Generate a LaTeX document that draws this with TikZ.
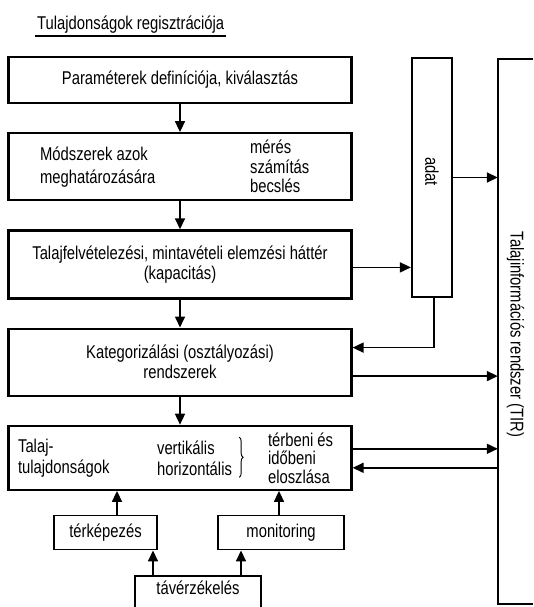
\documentclass[tikz,border=0pt]{standalone}
\usepackage{fontspec}
\setmainfont{Liberation Sans}[FakeStretch=0.8]
\usetikzlibrary{positioning,arrows.meta,decorations.pathreplacing}
\tikzset{
  box/.style={draw,line width=2.2pt,minimum width=343pt,align=center,inner sep=0pt},
  smallbox/.style={draw,line width=1.9pt,minimum height=34pt,inner sep=0pt},
  frame/.style={line width=2.2pt},
  arr/.style={line width=1.6pt,-{Triangle[length=11pt,width=10pt]}},
  txt/.style={align=left,inner sep=0pt},
}
\begin{document}
\begin{tikzpicture}[x=1pt,y=-1pt,node distance=28pt,font=\fontsize{18.5}{20}\selectfont]
\useasboundingbox (0,0) rectangle (533,607);
% title
\node[inner sep=2pt,anchor=south west] (title) at (35,36) {Tulajdonságok regisztrációja};
\draw[line width=1.2pt] (title.south west) -- (title.south east);
% main column
\node[box,minimum height=46pt] (param) at (180,80) {Paraméterek definíciója, kiválasztás};
\node[box,minimum height=67pt,below=of param] (modsz) {};
\node[txt,anchor=west,font=\fontsize{18.5}{23}\selectfont] (modtxt) at ([xshift=32.5pt]modsz.west) {Módszerek azok\\meghatározására};
\node[txt,anchor=west,font=\fontsize{18.5}{19.5}\selectfont] (meres) at ([xshift=242.5pt]modsz.west) {mérés\\számítás\\becslés};
\node[box,minimum height=68pt,below=of modsz] (felv) {Talajfelvételezési, mintavételi elemzési háttér\\(kapacitás)};
\node[box,minimum height=67pt,below=of felv] (kateg) {Kategorizálási (osztályozási)\\rendszerek};
\node[box,minimum height=64pt,below=of kateg] (tulaj) {};
\node[txt,anchor=west,font=\fontsize{18.5}{21}\selectfont] (talaj) at ([xshift=10.5pt]tulaj.west) {Talaj-\\tulajdonságok};
\node[txt,anchor=west,font=\fontsize{18.5}{21}\selectfont] (vert) at ([xshift=149.5pt]tulaj.west) {vertikális\\horizontális};
\draw[decorate,decoration={brace,amplitude=4pt},line width=0.9pt] ([xshift=7pt,yshift=3pt]vert.north east) -- ([xshift=7pt,yshift=-2pt]vert.south east);
\node[txt,anchor=west,font=\fontsize{18.5}{18.5}\selectfont] (eloszl) at ([xshift=260.5pt]tulaj.west) {térbeni és\\időbeni\\eloszlása};
% data and information system
\node[draw,frame,minimum width=40pt,minimum height=239pt] (adat) at (432,177.5) {};
\node[rotate=-90] (adattxt) at ([yshift=6pt]adat) {adat};
\node[minimum width=35pt,minimum height=545pt] (tir) at (515.5,331.5) {};
\draw[frame] (tir.north east) -- (tir.north west) -- (tir.south west) -- (tir.south east);
\node[rotate=-90] (tirtxt) at ([yshift=-3pt]tir) {Talajinformációs rendszer (TIR)};
% lower boxes
\node[smallbox,minimum width=103pt] (terk) at (105.5,532.5) {térképezés};
\node[smallbox,minimum width=126pt] (monit) at (281,532.5) {monitoring};
\node[minimum width=126pt,minimum height=31pt,anchor=north] (tav) at (198,576) {};
\draw[smallbox] (tav.south west) -- (tav.north west) -- (tav.north east) -- (tav.south east);
\node (tavtxt) at ([yshift=4pt]tav) {távérzékelés};
% arrows
\draw[arr] (param) -- (modsz);
\draw[arr] (modsz) -- (felv);
\draw[arr] (felv) -- (kateg);
\draw[arr] (kateg) -- (tulaj);
\coordinate (f1) at ([yshift=-3pt]felv.east);
\draw[arr] (f1) -- (f1 -| adat.west);
\draw[arr] (adat.east) -- (adat.east -| tir.west);
\coordinate (k1) at ([yshift=14.5pt]kateg.east);
\coordinate (k2) at ([yshift=-14pt]kateg.east);
\draw[arr] ([xshift=2pt]adat.south) |- (k1);
\draw[arr] (k2) -- (k2 -| tir.west);
\coordinate (t1) at ([yshift=9pt]tulaj.east);
\coordinate (t2) at ([yshift=-10pt]tulaj.east);
\draw[arr] (t1) -- (t1 -| tir.west);
\draw[arr] (t2 -| tir.west) -- (t2);
\coordinate (tk) at ([xshift=11.5pt]terk.north);
\coordinate (mn) at ([xshift=-2pt]monit.north);
\draw[arr] (tk) -- (tk |- tulaj.south);
\draw[arr] (mn) -- (mn |- tulaj.south);
\coordinate (v1) at ([xshift=-45pt]tav.north);
\coordinate (v2) at ([xshift=43pt]tav.north);
\draw[arr] (v1) -- (v1 |- terk.south);
\draw[arr] (v2) -- (v2 |- monit.south);
\end{tikzpicture}
\end{document}
